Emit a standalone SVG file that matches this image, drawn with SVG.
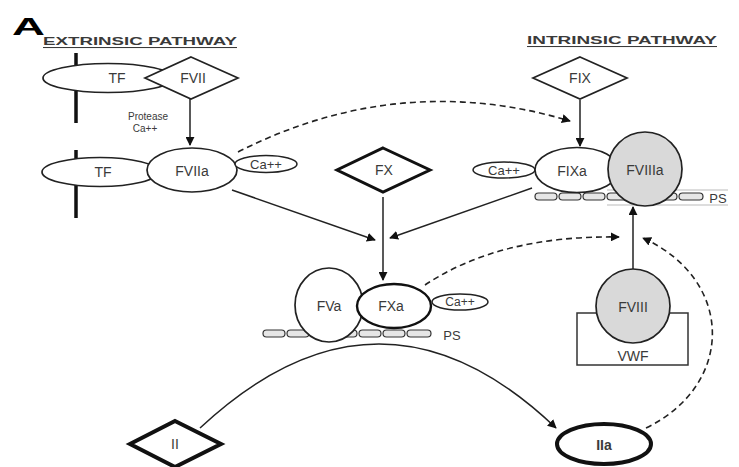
<svg xmlns="http://www.w3.org/2000/svg" width="739" height="467" viewBox="0 0 739 467">
<style>
text{font-family:"Liberation Sans",Arial,sans-serif;fill:#3a3a3a;text-anchor:middle;dominant-baseline:central}
.lbl{font-size:14px}
.hdr{font-size:10.5px;font-weight:bold;text-decoration:underline}
.sm{font-size:10px}
.n{fill:#fff;stroke:#222;stroke-width:1.7}
.g{fill:#d9d9d9;stroke:#222;stroke-width:1.7}
.thick{fill:#fff;stroke:#111;stroke-width:3}
.ca{fill:#fff;stroke:#222;stroke-width:1.5}
.ps{fill:#e6e6e6;stroke:#333;stroke-width:1.2}
.c{fill:none;stroke:#222;stroke-width:1.5}
.d{fill:none;stroke:#222;stroke-width:1.6;stroke-dasharray:6 4}
.mem{stroke:#111;stroke-width:3.5}
</style>
<defs>
<marker id="ah" viewBox="0 0 10 10" refX="9" refY="5" markerWidth="9" markerHeight="9" markerUnits="userSpaceOnUse" orient="auto"><path d="M0 0 L10 5 L0 10 Z" fill="#111"/></marker>
</defs>
<text x="12" y="26" textLength="33" lengthAdjust="spacingAndGlyphs" style="font-size:24px;font-weight:bold;fill:#000;text-anchor:start">A</text>
<text x="43" y="41" class="hdr" textLength="194" lengthAdjust="spacingAndGlyphs" style="text-anchor:start">EXTRINSIC PATHWAY</text>
<text x="527" y="40" class="hdr" textLength="190" lengthAdjust="spacingAndGlyphs" style="text-anchor:start">INTRINSIC PATHWAY</text>

<g id="membranes">
<line class="mem" x1="76" y1="53" x2="76" y2="123"/>
<line class="mem" x1="76" y1="150" x2="76" y2="218"/>
</g>

<g id="ps-left">
<rect class="ps" x="263" y="330" width="22" height="7" rx="3.5"/>
<rect class="ps" x="287" y="330" width="22" height="7" rx="3.5"/>
<rect class="ps" x="311" y="330" width="22" height="7" rx="3.5"/>
<rect class="ps" x="335" y="330" width="22" height="7" rx="3.5"/>
<rect class="ps" x="359" y="330" width="22" height="7" rx="3.5"/>
<rect class="ps" x="383" y="330" width="22" height="7" rx="3.5"/>
<rect class="ps" x="407" y="330" width="24" height="7" rx="3.5"/>
<text x="452" y="335" class="lbl" style="font-size:13px">PS</text>
</g>
<g id="ps-right">
<line x1="607" y1="190" x2="728" y2="190" stroke="#bbb" stroke-width="1"/>
<line x1="607" y1="205" x2="728" y2="205" stroke="#bbb" stroke-width="1"/>
<rect class="ps" x="535" y="193" width="22" height="7" rx="3.5"/>
<rect class="ps" x="559" y="193" width="22" height="7" rx="3.5"/>
<rect class="ps" x="583" y="193" width="22" height="7" rx="3.5"/>
<rect class="ps" x="607" y="193" width="22" height="7" rx="3.5"/>
<rect class="ps" x="631" y="193" width="22" height="7" rx="3.5"/>
<rect class="ps" x="655" y="193" width="22" height="7" rx="3.5"/>
<rect class="ps" x="679" y="193" width="24" height="7" rx="3.5"/>
<text x="718" y="198" class="lbl" style="font-size:13px">PS</text>
</g>

<g id="connectors">
<line class="c" x1="190" y1="99" x2="190" y2="145" marker-end="url(#ah)"/>
<line class="c" x1="580" y1="100" x2="580" y2="146" marker-end="url(#ah)"/>
<line class="c" x1="383" y1="197" x2="383" y2="280" stroke-width="2.2" marker-end="url(#ah)"/>
<line class="c" x1="232" y1="190" x2="375" y2="240" marker-end="url(#ah)"/>
<line class="c" x1="532" y1="188" x2="390" y2="238" marker-end="url(#ah)"/>
<line class="c" x1="633" y1="269" x2="633" y2="207" marker-end="url(#ah)"/>
<path class="d" d="M238 152 Q400 70 570 121" marker-end="url(#ah)"/>
<path class="d" d="M425 285 Q500 235 619 237" marker-end="url(#ah)"/>
<path class="d" d="M646 428 C735 385 735 280 643 238" marker-end="url(#ah)"/>
<path class="c" d="M200 428 Q380 260 556 428" marker-end="url(#ah)"/>
<text x="148" y="116" class="sm">Protease</text>
<text x="145" y="128" class="sm">Ca++</text>
</g>

<g id="TF1"><ellipse class="n" cx="108" cy="78" rx="65" ry="14.5"/><text x="117" y="78" class="lbl">TF</text></g>
<g id="FVII"><polygon class="n" points="191,57 238,78 191,99 145,78"/><text x="193" y="78" class="lbl">FVII</text></g>

<g id="TF2"><ellipse class="n" cx="100" cy="172" rx="58" ry="14.5"/><text x="103" y="172" class="lbl">TF</text></g>
<g id="FVIIa"><ellipse class="n" cx="192" cy="170" rx="45" ry="22"/><text x="192" y="171" class="lbl">FVIIa</text></g>
<g id="Ca1"><ellipse class="ca" cx="266" cy="164" rx="31" ry="8.5"/><text x="266" y="164" class="sm" style="font-size:13px">Ca++</text></g>

<g id="FX"><polygon class="thick" points="383,148 430,170 383,192 337,170"/><text x="384" y="170" class="lbl">FX</text></g>

<g id="FIX"><polygon class="n" points="580,57 627,78 580,99 533,78"/><text x="580" y="78" class="lbl">FIX</text></g>
<g id="Ca2"><ellipse class="ca" cx="504" cy="170" rx="31" ry="8"/><text x="504" y="170" class="sm" style="font-size:13px">Ca++</text></g>
<g id="FIXa"><ellipse class="n" cx="577" cy="170" rx="42" ry="22.5"/><text x="572" y="171" class="lbl">FIXa</text></g>
<g id="FVIIIa"><circle class="g" cx="645" cy="169" r="37"/><text x="645" y="170" class="lbl">FVIIIa</text></g>

<g id="FVa"><ellipse class="n" cx="329" cy="305" rx="34" ry="37"/><text x="329" y="306" class="lbl">FVa</text></g>
<g id="FXa"><ellipse fill="#fff" stroke="#111" stroke-width="2.4" cx="394" cy="306" rx="37" ry="22"/><text x="391" y="306" class="lbl">FXa</text></g>
<g id="Ca3"><ellipse class="ca" cx="460" cy="302" rx="28" ry="8"/><text x="460" y="302" class="sm" style="font-size:12px">Ca++</text></g>

<g id="VWF"><rect fill="#fff" stroke="#333" stroke-width="1.5" x="577" y="313" width="111" height="52"/><text x="633" y="356" class="lbl">VWF</text></g>
<g id="FVIII"><circle class="g" cx="633" cy="306" r="37"/><text x="633" y="307" class="lbl">FVIII</text></g>

<g id="II"><polygon fill="#fff" stroke="#111" stroke-width="4" points="175,421 221,444 175,467 130,444"/><text x="175" y="444" class="lbl">II</text></g>
<g id="IIa"><ellipse fill="#fff" stroke="#111" stroke-width="4" cx="604" cy="444" rx="47" ry="20"/><text x="604" y="445" class="lbl" style="font-weight:bold">IIa</text></g>
</svg>
